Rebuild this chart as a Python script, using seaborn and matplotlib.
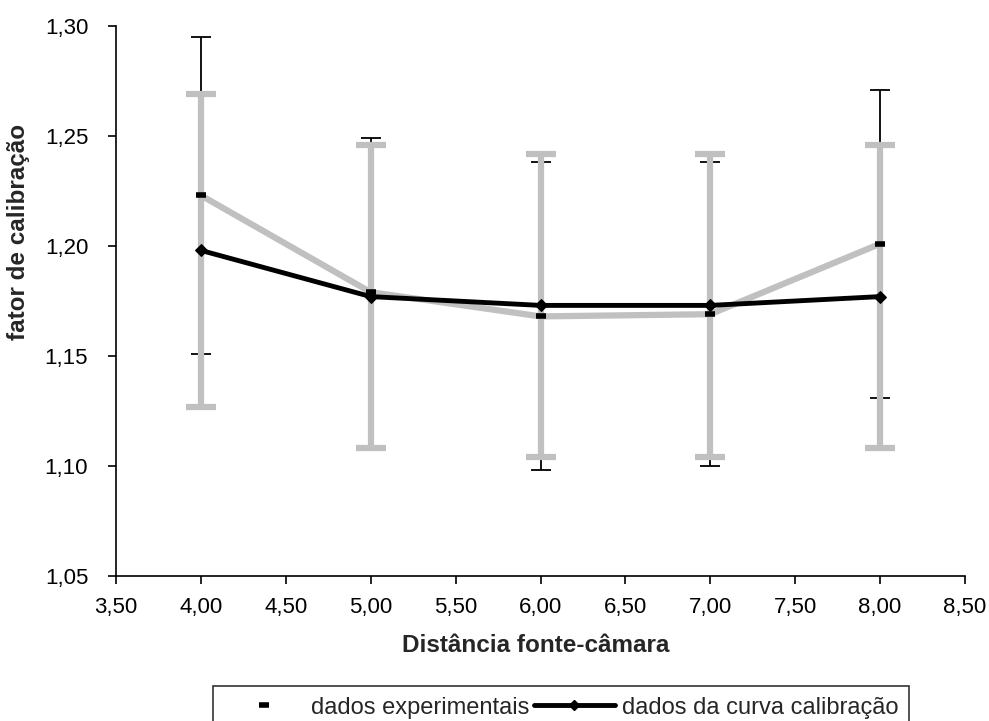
import matplotlib
matplotlib.use("Agg")
import matplotlib.pyplot as plt
import seaborn as sns
import pandas as pd
from matplotlib.lines import Line2D
from matplotlib.ticker import FuncFormatter

# ---- data ----
distancia = [4.0, 5.0, 6.0, 7.0, 8.0]
exp_valores = [1.223, 1.179, 1.168, 1.169, 1.201]
exp_erro = [0.072, 0.070, 0.070, 0.069, 0.070]
cal_valores = [1.198, 1.177, 1.173, 1.173, 1.177]
cal_erro = [0.071, 0.069, 0.069, 0.069, 0.069]
x_ticks = [3.5, 4.0, 4.5, 5.0, 5.5, 6.0, 6.5, 7.0, 7.5, 8.0, 8.5]
y_ticks = [1.05, 1.10, 1.15, 1.20, 1.25, 1.30]

sns.set_theme(style="ticks")
plt.rcParams['font.family'] = ['Liberation Sans', 'DejaVu Sans']

df_exp = pd.DataFrame({"x": distancia, "y": exp_valores})
df_cal = pd.DataFrame({"x": distancia, "y": cal_valores})

fig = plt.figure(figsize=(9.89, 7.21), dpi=100)
ax = fig.add_axes([116/989, 1-576/721, (965-116)/989, (576-26)/721])

GRAY = "#C0C0C0"

# experimental error bars (thin black)
ax.errorbar(distancia, exp_valores, yerr=exp_erro, fmt="none", ecolor="black",
            elinewidth=1.3, capsize=7, capthick=1.3, zorder=2)
# calibration error bars (thick gray)
ax.errorbar(distancia, cal_valores, yerr=cal_erro, fmt="none", ecolor=GRAY,
            elinewidth=4.5, capsize=11, capthick=4.5, zorder=3)

# experimental line (gray) with black dash markers
sns.lineplot(data=df_exp, x="x", y="y", ax=ax, color=GRAY, linewidth=4.5,
             marker="_", markersize=7, markeredgewidth=4, markeredgecolor="black",
             zorder=4, legend=False)
# calibration line (black) with diamonds
sns.lineplot(data=df_cal, x="x", y="y", ax=ax, color="black", linewidth=3.5,
             marker="D", markersize=6, markeredgecolor="black", markerfacecolor="black",
             zorder=5, legend=False)

ax.set_xlim(3.5, 8.5)
ax.set_ylim(1.05, 1.30)
ax.set_xticks(x_ticks)
ax.set_yticks(y_ticks)
fmt = FuncFormatter(lambda v, p: f"{v:.2f}".replace(".", ","))
ax.xaxis.set_major_formatter(fmt)
ax.yaxis.set_major_formatter(fmt)
ax.tick_params(axis="both", direction="out", length=6, width=1.2, labelsize=16,
               colors="black")
ax.tick_params(axis="x", pad=9)
ax.tick_params(axis="y", pad=14)
for s in ["top", "right"]:
    ax.spines[s].set_visible(False)
for s in ["left", "bottom"]:
    ax.spines[s].set_color("black")
    ax.spines[s].set_linewidth(1.2)

ax.set_xlabel("Distância fonte-câmara", fontsize=17.5, fontweight="bold", labelpad=11)
ax.xaxis.set_label_coords(0.494, -0.105)
ax.set_ylabel("fator de calibração", fontsize=17.5, fontweight="bold")
ax.yaxis.set_label_coords((30 - 116) / 849, 0.625)

handles = [
    Line2D([], [], linestyle="none", marker="_", markersize=7, markeredgewidth=4,
           color="black"),
    Line2D([], [], color="black", linewidth=3.5, marker="D", markersize=5),
]
leg = fig.legend(handles, ["dados experimentais", "dados da curva calibração"],
                 loc="upper center", bbox_to_anchor=(561/989, 1-686/721), ncol=2,
                 frameon=True, fancybox=False, edgecolor="black", fontsize=17,
                 handlelength=3.4, columnspacing=0.2, handletextpad=0.3,
                 borderpad=0.45, borderaxespad=0)
leg.get_frame().set_linewidth(1.2)

fig.savefig("out.png", dpi=100)
